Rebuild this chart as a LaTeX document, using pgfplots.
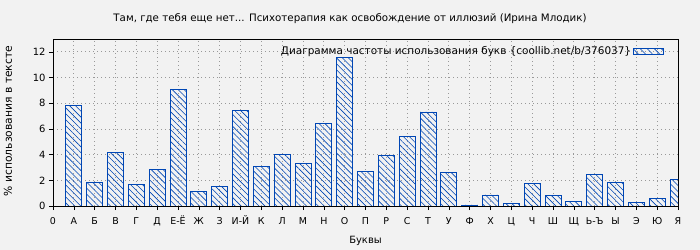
\documentclass[border=0pt]{standalone}
\usepackage{pgfplots}
\pgfplotsset{compat=1.18}
\usepackage{fontspec}
\setmainfont{DejaVu Sans}
\usetikzlibrary{patterns.meta}
\definecolor{bg}{RGB}{242,242,242}
\definecolor{barblue}{RGB}{0,70,180}
\pgfplotstableread{
x y
1 7.86
2 1.85
3 4.19
4 1.69
5 2.86
6 9.04
7 1.15
8 1.54
9 7.42
10 3.10
11 4.04
12 3.33
13 6.46
14 11.54
15 2.71
16 3.96
17 5.44
18 7.32
19 2.63
20 0.08
21 0.86
22 0.21
23 1.77
24 0.83
25 0.36
26 2.47
27 1.85
28 0.29
29 0.60
30 2.08
}\lettertable
\begin{document}
\begin{tikzpicture}
\fill[bg] (-53bp,-44bp) rectangle (647bp,206bp);
\node[font=\fontsize{10.3}{12}\selectfont] at (297bp,187bp) {Там, где тебя еще нет... Психотерапия как освобождение от иллюзий (Ирина Млодик)};
\node[font=\fontsize{10.8}{12}\selectfont, rotate=90] at (-45bp,85bp) {\% использования в тексте};
\begin{axis}[
  at={(0,0)}, anchor=south west, scale only axis,
  width=625bp, height=167bp,
  xmin=0, xmax=30, ymin=0, ymax=13,
  xtick={0,...,30},
  xticklabels={0,А,Б,В,Г,Д,Е-Ё,Ж,З,И-Й,К,Л,М,Н,О,П,Р,С,Т,У,Ф,Х,Ц,Ч,Ш,Щ,Ь-Ъ,Ы,Э,Ю,Я},
  ytick={0,2,...,12},
  grid=major,
  grid style={dash pattern=on 1.2bp off 2.8bp, gray!80, line width=0.7pt},
  axis line style={black, line width=0.8pt},
  tick align=outside, tick pos=left,
  major tick length=4bp,
  tick style={black, line width=0.6pt},
  ticklabel style={font=\fontsize{10}{12}\selectfont},
  xticklabel style={font=\fontsize{9.5}{11}\selectfont, text height=7.5bp, text depth=1bp, yshift=-3bp},
  /pgf/number format/assume math mode=true,
  xlabel={Буквы},
  label style={font=\fontsize{10}{12}\selectfont},
  xlabel style={yshift=-4bp},
  axis background/.style={fill=bg},
  legend plot pos=right,
  legend style={at={(0.979,0.975)}, anchor=north east, draw=none, fill=none,
    font=\fontsize{10.5}{12}\selectfont, inner sep=1bp},
]
\addplot[ybar, bar width=16bp, bar shift=0pt, draw=barblue, line width=0.8pt,
  pattern={Lines[angle=-45, distance=4.2bp, line width=0.6pt]}, pattern color=barblue,
  legend image code/.code={\draw[draw=barblue, line width=0.8pt, pattern={Lines[angle=-45, distance=5bp, line width=0.6pt]}, pattern color=barblue] (0bp,-3bp) rectangle (30bp,3bp);}
] table[x=x, y=y] {\lettertable};
\addlegendentry{Диаграмма частоты использования букв \{coollib.net/b/376037\}\hspace{10bp}}
\end{axis}
\end{tikzpicture}
\end{document}
